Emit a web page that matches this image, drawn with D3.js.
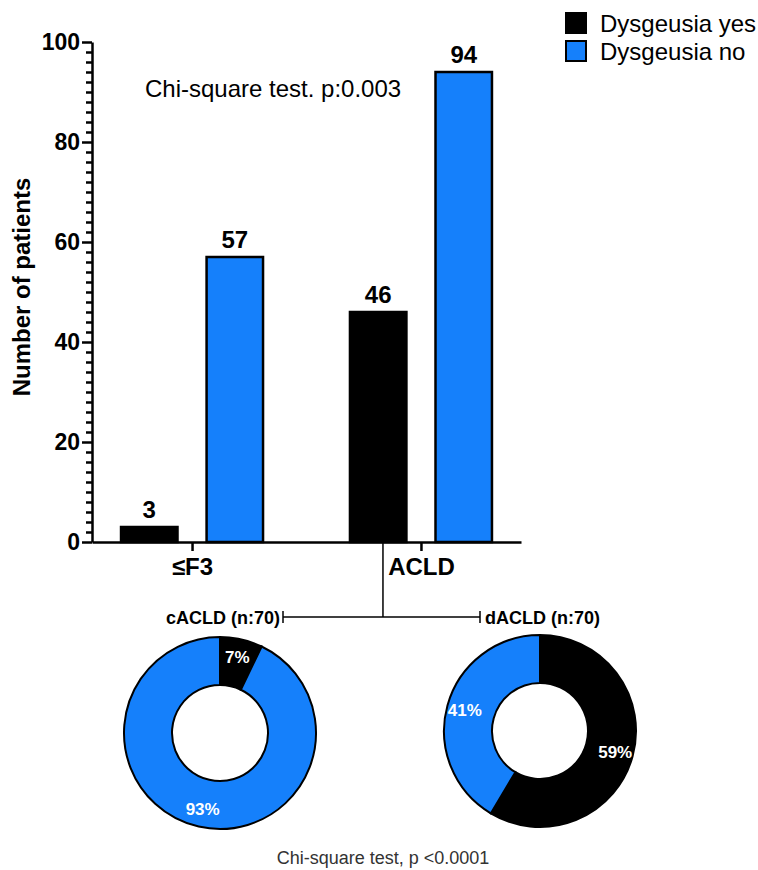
<!DOCTYPE html>
<html>
<head>
<meta charset="utf-8">
<script src="https://cdn.jsdelivr.net/npm/d3@7"></script>
<style>
  body { margin: 0; background: #fff; }
  text { font-family: "Liberation Sans", Arial, sans-serif; }
</style>
</head>
<body>
<div id="chart"></div>
<script>
// bar data
var groups = ["≤F3", "ACLD"];
var series = ["Dysgeusia yes", "Dysgeusia no"];
var yesValues = [3, 46];
var noValues = [57, 94];
var yTicks = [0, 20, 40, 60, 80, 100];

// donut data (ACLD split)
var donutNames = ["cACLD (n:70)", "dACLD (n:70)"];
var donutYes = [5, 41];
var donutNo = [65, 29];

var colors = {"Dysgeusia yes": "#000000", "Dysgeusia no": "#1580fb"};

var svgwidth = 758, svgheight = 870;
var margin = {top: 42, left: 92},
    plotwidth = 429,
    plotheight = 500;

var svg = d3.select("#chart").append("svg")
    .attr("width", svgwidth)
    .attr("height", svgheight);

var g = svg.append("g")
    .attr("transform", "translate(" + margin.left + "," + margin.top + ")");

var x = d3.scalePoint()
    .domain(groups)
    .range([0, plotwidth])
    .padding(0.437);

var xs = d3.scaleBand()
    .domain(series)
    .range([-71, 71])
    .paddingInner(0.34);

var y = d3.scaleLinear()
    .domain([0, 100])
    .range([plotheight, 0]);

var bardata = [];
groups.forEach(function(grp, i) {
    bardata.push({group: grp, s: series[0], v: yesValues[i]});
    bardata.push({group: grp, s: series[1], v: noValues[i]});
});

// bars
g.selectAll(".bar")
    .data(bardata)
  .enter().append("rect")
    .attr("class", "bar")
    .attr("x", function(d) { return x(d.group) + xs(d.s); })
    .attr("width", xs.bandwidth())
    .attr("y", function(d) { return y(d.v); })
    .attr("height", function(d) { return plotheight - y(d.v); })
    .style("fill", function(d) { return colors[d.s]; })
    .style("stroke", "#000")
    .style("stroke-width", 2.5);

g.selectAll(".vlabel")
    .data(bardata)
  .enter().append("text")
    .attr("x", function(d) { return x(d.group) + xs(d.s) + xs.bandwidth() / 2; })
    .attr("y", function(d) { return y(d.v) - 9; })
    .attr("text-anchor", "middle")
    .style("font-size", "24px")
    .style("font-weight", "bold")
    .text(function(d) { return d.v; });

// y axis with minor ticks
var minor = d3.range(0, 101, 2).filter(function(v) { return v % 20 !== 0; });
g.append("g")
    .call(d3.axisLeft(y).tickValues(minor).tickSize(6).tickFormat(""))
    .call(function(a) { a.select(".domain").remove(); })
    .selectAll("line").style("stroke-width", 2.5);

var yAxis = g.append("g")
    .attr("class", "y axis")
    .call(d3.axisLeft(y).tickValues(yTicks).tickSize(10).tickSizeOuter(0).tickPadding(2));
yAxis.select(".domain").style("stroke-width", 2.5);
yAxis.selectAll("line").style("stroke-width", 2.5);
yAxis.selectAll("text")
    .style("font-size", "23px")
    .style("font-weight", "bold")
    .style("font-family", "Liberation Sans, Arial, sans-serif")
    .attr("fill", "#000");

// x axis
var xAxis = g.append("g")
    .attr("transform", "translate(0," + plotheight + ")")
    .call(d3.axisBottom(x).tickSize(9).tickSizeOuter(0).tickPadding(7));
xAxis.select(".domain").style("stroke-width", 2.5);
xAxis.selectAll("line").style("stroke-width", 2.5);
xAxis.selectAll("text")
    .style("font-size", "24px")
    .style("font-weight", "bold")
    .style("font-family", "Liberation Sans, Arial, sans-serif")
    .attr("fill", "#000");

// axis title
svg.append("text")
    .attr("transform", "translate(30,287) rotate(-90)")
    .attr("text-anchor", "middle")
    .style("font-size", "24px")
    .style("font-weight", "bold")
    .text("Number of patients");

svg.append("text")
    .attr("x", 145)
    .attr("y", 97)
    .style("font-size", "24px")
    .text("Chi-square test. p:0.003");

// legend
var legend = svg.selectAll(".legend")
    .data(series)
  .enter().append("g")
    .attr("transform", function(d, i) { return "translate(566," + (13 + i * 28) + ")"; });
legend.append("rect")
    .attr("width", 20).attr("height", 20)
    .style("fill", function(d) { return colors[d]; })
    .style("stroke", "#000")
    .style("stroke-width", 2);
legend.append("text")
    .attr("x", 34).attr("y", 19)
    .style("font-size", "24px")
    .text(function(d) { return d; });

// bracket from ACLD to donuts
var bx = margin.left + x("ACLD") - 38, by0 = margin.top + plotheight, by1 = 617;
var br = svg.append("g").style("stroke", "#000").style("stroke-width", 1.5);
br.append("line").attr("x1", bx).attr("x2", bx).attr("y1", by0).attr("y2", by1);
br.append("line").attr("x1", 283).attr("x2", 480).attr("y1", by1).attr("y2", by1);
br.append("line").attr("x1", 283).attr("x2", 283).attr("y1", by1 - 6).attr("y2", by1 + 6);
br.append("line").attr("x1", 480).attr("x2", 480).attr("y1", by1 - 6).attr("y2", by1 + 6);

svg.append("text").attr("x", 280).attr("y", 624).attr("text-anchor", "end")
    .style("font-size", "18px").style("font-weight", "bold").text(donutNames[0]);
svg.append("text").attr("x", 485).attr("y", 624)
    .style("font-size", "18px").style("font-weight", "bold").text(donutNames[1]);

// donuts
var pie = d3.pie().sort(null).value(function(d) { return d.v; });
var arc = d3.arc().innerRadius(48).outerRadius(96);
var labelArc = d3.arc().innerRadius(78).outerRadius(78);
var centers = [[220, 733], [540, 731]];

donutNames.forEach(function(name, i) {
    var total = donutYes[i] + donutNo[i];
    var slices = pie([{s: series[0], v: donutYes[i]}, {s: series[1], v: donutNo[i]}]);
    var dg = svg.append("g")
        .attr("transform", "translate(" + centers[i][0] + "," + centers[i][1] + ")");
    dg.selectAll("path")
        .data(slices)
      .enter().append("path")
        .attr("d", arc)
        .style("fill", function(d) { return colors[d.data.s]; })
        .style("stroke", "#000")
        .style("stroke-width", 2);
    dg.selectAll("text")
        .data(slices)
      .enter().append("text")
        .attr("transform", function(d) { return "translate(" + labelArc.centroid(d) + ")"; })
        .attr("text-anchor", "middle")
        .attr("dy", "0.35em")
        .style("fill", "#fff")
        .style("font-size", "17px")
        .style("font-weight", "bold")
        .text(function(d) { return Math.round(d.data.v / total * 100) + "%"; });
});

svg.append("text")
    .attr("x", 383).attr("y", 864)
    .attr("text-anchor", "middle")
    .style("font-size", "18px")
    .style("fill", "#333")
    .text("Chi-square test, p <0.0001");
</script>
</body>
</html>
